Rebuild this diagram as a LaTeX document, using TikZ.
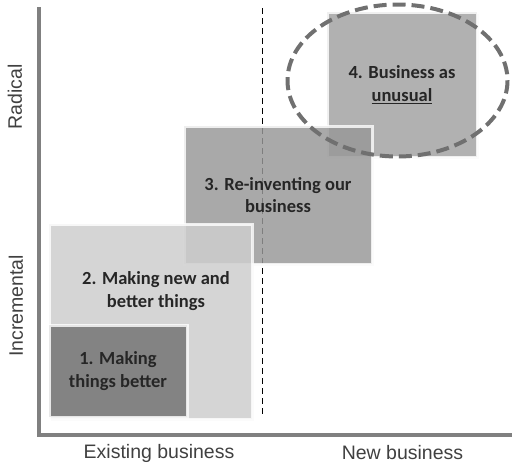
\documentclass[tikz,border=0pt]{standalone}
\usepackage{fontspec}
\setmainfont{Carlito}
\newfontfamily\axisfont{Liberation Sans}
\usetikzlibrary{shadows}

\begin{document}
\begin{tikzpicture}[x=1pt,y=-1pt]
\tikzstyle{box} = [rectangle, draw=white, line width=3pt, opacity=0.8, text opacity=1, align=center, text=black!85, font=\bfseries\fontsize{18.5}{22.5}\selectfont, drop shadow={opacity=0.15, shadow xshift=1.5pt, shadow yshift=-1.5pt}]
\tikzstyle{boxtext} = [align=center, text=black!85, font=\bfseries\fontsize{18.5}{22.5}\selectfont]
\tikzstyle{axislabel} = [text=black!75, font=\axisfont\fontsize{19.5}{23}\selectfont]
\tikzstyle{axisline} = [draw=black!50, line width=4pt]
\tikzstyle{divider} = [draw=black, line width=0.8pt, dash pattern=on 6pt off 4pt]
\tikzstyle{ring} = [draw=black!56, line width=4pt, dash pattern=on 13pt off 6pt]
\useasboundingbox (0,0) rectangle (512,467);
% axes and divider
\coordinate (ytop) at (39,7);
\coordinate (xend) at (512,435);
\coordinate (divtop) at (262,8);
\coordinate (divbot) at (262,416);
\draw[axisline] (ytop) |- (xend);
\draw[divider] (divtop) -- (divbot);
% the four fields
\node[box, fill=black!36, minimum width=150, minimum height=145] (b4) at (402,84.5) {4. Business as\\\underline{unusual}};
\node[box, fill=black!40, minimum width=188, minimum height=138] (b3) at (278,195) {3. Re-inventing our\\business};
\node[box, fill=black!18, minimum width=203, minimum height=195] (b2) at (150.5,321.5) {};
\node[boxtext] (t2) at (156,291) {2. Making new and\\better things};
\node[box, fill=black!55, minimum width=138, minimum height=92] (b1) at (118,371) {1. Making\\things better};
\draw[ring] (397.5,80.5) ellipse [x radius=110, y radius=76];
% axis labels
\node[axislabel, rotate=90] (radical) at (15,97) {Radical};
\node[axislabel, rotate=90] (incremental) at (16,306) {Incremental};
\node[axislabel] (existing) at (159,453) {Existing business};
\node[axislabel] (newbiz) at (402.5,453) {New business};
\end{tikzpicture}
\end{document}
